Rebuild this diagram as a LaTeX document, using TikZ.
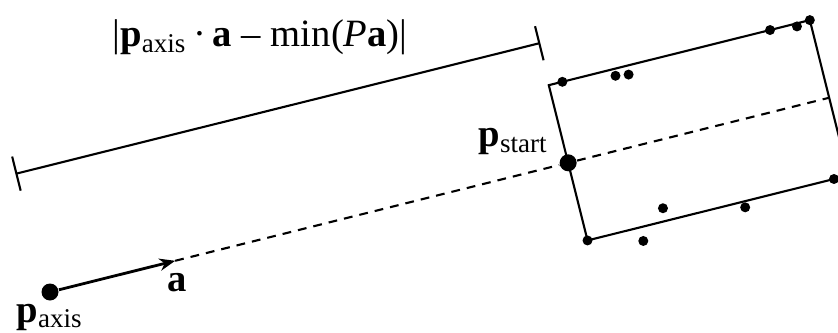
\documentclass[tikz,border=0pt]{standalone}
\usepackage{fontspec}
\setmainfont{Liberation Serif}
\usetikzlibrary{arrows.meta, positioning}
\tikzset{
  smalldot/.style={circle, fill=black, inner sep=0pt, minimum size=0.1cm},
  bigdot/.style={circle, fill=black, inner sep=0pt, minimum size=0.17cm},
  lbl/.style={inner sep=0pt, font=\fontsize{11}{13}\selectfont},
  axisline/.style={line width=0.6pt, dash pattern=on 2.5pt off 2pt},
  boxline/.style={line width=0.6pt},
  arrow/.style={line width=0.8pt, -{Stealth[length=4.5pt, width=3.5pt]}},
  dimline/.style={line width=0.6pt, {Bar[width=10pt]}-{Bar[width=10pt]}}
}

\begin{document}
\begin{tikzpicture}
    \clip (0,0) rectangle (8.38,3.32);

    % 1. Eje girado
    \begin{scope}[shift={(0.5,0.4)}, rotate=14]
        \node[bigdot] (paxis) at (0,0) {};
        \coordinate (atip) at (1.29,0);
        \node[bigdot] (pstart) at (5.34,0) {};
        \coordinate (axisend) at (8.03,0);

        % Caja
        \coordinate (BL) at (5.34,-0.80);
        \coordinate (BR) at (8.03,-0.80);
        \coordinate (TR) at (8.03,0.80);
        \coordinate (TL) at (5.34,0.80);
        \draw[boxline] (BL) -- (BR) -- (TR) -- (TL) -- cycle;

        % Puntos
        \foreach \s/\t [count=\n] in {
            5.48/0.80, 6.01/0.73, 6.14/0.71, 7.62/0.80, 7.89/0.77, 8.03/0.80,
            7.88/-0.80, 6.15/-0.67, 6.95/-0.86, 5.34/-0.80, 5.88/-0.94
        } {
            \node[smalldot] (q\n) at (\s,\t) {};
        }

        % Cota
        \coordinate (dimL) at (-0.05,1.23);
        \coordinate (dimR) at (5.36,1.23);
    \end{scope}

    % 2. Conexiones
    \draw[arrow] (paxis) -- (atip);
    \draw[axisline] (atip) -- (pstart);
    \draw[axisline] (pstart) -- (axisend);
    \draw[dimline] (dimL) -- (dimR);

    % 3. Etiquetas
    \node[lbl, anchor=base] (dimlbl) at (2.60,2.85) {|\textbf{p}\textsubscript{axis}\,·\,\textbf{a} -- min(\textit{P}\textbf{a})|};
    \node[lbl, anchor=base] (alb) at ([shift={(0.015,-0.31)}]atip) {\textbf{a}};
    \node[lbl, anchor=base] (paxislbl) at ([shift={(0,-0.30)}]paxis.center) {\textbf{p}\textsubscript{axis}};
    \node[lbl, anchor=base east] (pstartlbl) at ([shift={(-0.19,0.16)}]pstart.center) {\textbf{p}\textsubscript{start}};

\end{tikzpicture}
\end{document}
